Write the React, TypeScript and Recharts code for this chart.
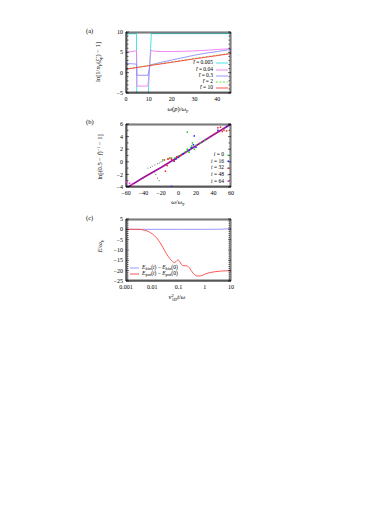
import React from 'react';
import { LineChart, ComposedChart, Line, Scatter, XAxis, YAxis } from 'recharts';

const FONT = '"Liberation Serif", "DejaVu Serif", serif';

// ---------- Panel (a) ----------
const aXTicks = [0, 10, 20, 30, 40];
const aXMinor = [2, 4, 6, 8, 12, 14, 16, 18, 22, 24, 26, 28, 32, 34, 36, 38, 42, 44];
const aYTicks = [-5, 0, 5, 10];
const aYMinor = [-4, -3, -2, -1, 1, 2, 3, 4, 6, 7, 8, 9];
const aLabels = ['t\u0303 = 0.005', 't\u0303 = 0.04', 't\u0303 = 0.3', 't\u0303 = 2', 't\u0303 = 10'];
const aColors = ['#33e0e0', '#f07af0', '#8c8cff', '#66dd33', '#ff3b3b'];
const aT0005 = [
  { x: 0, y: 9.55 }, { x: 4.6, y: 9.55 }, { x: 4.7, y: -8 }, { x: 9.5, y: -8 },
  { x: 11.1, y: 9.6 }, { x: 46, y: 9.6 },
];
const aT004 = [
  { x: 0, y: 5.0 }, { x: 2, y: 5.15 }, { x: 4.6, y: 5.4 }, { x: 4.8, y: -3.3 }, { x: 9.6, y: -3.3 },
  { x: 10.9, y: 5.5 }, { x: 12, y: 5.3 }, { x: 15, y: 5.2 }, { x: 20, y: 5.2 }, { x: 25, y: 5.25 },
  { x: 30, y: 5.35 }, { x: 35, y: 5.5 }, { x: 40, y: 5.7 }, { x: 46, y: 5.9 },
];
const aT03 = [
  { x: 0, y: 2.3 }, { x: 2, y: 2.2 }, { x: 4.6, y: 2.1 }, { x: 4.8, y: -0.65 }, { x: 9.6, y: -0.65 },
  { x: 10.6, y: 1.9 }, { x: 15, y: 2.5 }, { x: 20, y: 3.1 }, { x: 25, y: 3.7 }, { x: 30, y: 4.3 },
  { x: 35, y: 4.8 }, { x: 40, y: 5.2 }, { x: 46, y: 5.7 },
];
const aT2 = [
  { x: 0, y: 0.95 }, { x: 10, y: 1.8 }, { x: 20, y: 2.65 }, { x: 30, y: 3.5 }, { x: 40, y: 4.3 }, { x: 46, y: 4.8 },
];
const aT10 = [
  { x: 0, y: 0.85 }, { x: 10, y: 1.7 }, { x: 20, y: 2.55 }, { x: 30, y: 3.4 }, { x: 40, y: 4.2 }, { x: 46, y: 4.7 },
];
const aSeries = [aT0005, aT004, aT03, aT2, aT10];

// ---------- Panel (b) ----------
const bXTicks = [-60, -40, -20, 0, 20, 40, 60];
const bXMinor = [-50, -30, -10, 10, 30, 50];
const bYTicks = [-4, -2, 0, 2, 4, 6];
const bYMinor = [-3, -1, 1, 3, 5];
const bLabels = ['i = 0', 'i = 16', 'i = 32', 'i = 48', 'i = 64'];
const bColors = ['#22cc22', '#2222ff', '#ff2222', '#777777', '#ff22ff'];
const bI0 = [
  { x: -18, y: 0.3 }, { x: -12, y: 0.5 }, { x: -8, y: 0.6 }, { x: -4, y: 0.6 }, { x: 0, y: 0.9 },
  { x: 4, y: 1.2 }, { x: 8, y: 1.6 }, { x: 10, y: 2.0 }, { x: 11, y: 1.8 }, { x: 12, y: 1.5 },
  { x: 14, y: 2.2 }, { x: 15, y: 2.5 }, { x: 16, y: 3.0 }, { x: 18, y: 2.0 }, { x: 20, y: 2.6 },
  { x: 10, y: 4.7 }, { x: 25, y: 3.0 }, { x: 30, y: 3.4 },
];
const bI16 = [
  { x: -8, y: -3.9 }, { x: -5, y: 0.1 }, { x: -3, y: 0.4 }, { x: 0, y: 0.7 }, { x: 5, y: 1.2 },
  { x: 12, y: 1.8 }, { x: 15, y: 2.2 }, { x: 17, y: 2.7 }, { x: 18, y: 4.1 }, { x: 20, y: 2.3 },
  { x: 45, y: 5.0 }, { x: 55, y: 5.6 },
];
const bI32 = [
  { x: -16, y: 0.3 }, { x: -15, y: -1.5 }, { x: -13, y: -0.6 }, { x: -12, y: 0.4 }, { x: -10, y: 0.6 },
  { x: -8, y: 0.4 }, { x: -5, y: 0.2 }, { x: -2, y: 0.8 }, { x: 3, y: 1.0 }, { x: 42, y: 4.5 },
  { x: 45, y: 5.4 }, { x: 48, y: 5.5 }, { x: 50, y: 4.8 }, { x: 52, y: 5.0 }, { x: 55, y: 4.9 },
];
const bI48 = [
  { x: -45, y: -3.0 }, { x: -40, y: -2.6 }, { x: -35, y: -1.0 }, { x: -32, y: -0.9 }, { x: -30, y: -0.7 },
  { x: -28, y: -1.7 }, { x: -27, y: -0.5 }, { x: -26, y: -2.0 }, { x: -24, y: -0.3 }, { x: -24, y: -2.6 },
  { x: -22, y: -0.2 }, { x: -22, y: -3.0 }, { x: -20, y: 0.0 }, { x: -18, y: 0.1 }, { x: 35, y: 3.9 },
  { x: 40, y: 4.2 }, { x: 46, y: 4.7 }, { x: 50, y: 5.1 },
];
const bI64 = [
  { x: -59, y: -3.2 }, { x: -56, y: -3.4 }, { x: -53, y: -3.6 },
];
const bI64Line = [
  { x: -60, y: -4.2 }, { x: -40, y: -2.5 }, { x: -20, y: -0.9 }, { x: 0, y: 0.8 },
  { x: 20, y: 2.55 }, { x: 40, y: 4.3 }, { x: 60, y: 6.0 },
];

// ---------- Panel (c) ----------
const cXTicks = [0.001, 0.01, 0.1, 1, 10];
const cXTickText = ['0.001', '0.01', '0.1', '1', '10'];
const cXMinor = [
  0.002, 0.003, 0.004, 0.005, 0.006, 0.007, 0.008, 0.009,
  0.02, 0.03, 0.04, 0.05, 0.06, 0.07, 0.08, 0.09,
  0.2, 0.3, 0.4, 0.5, 0.6, 0.7, 0.8, 0.9,
  2, 3, 4, 5, 6, 7, 8, 9,
];
const cYTicks = [-25, -20, -15, -10, -5, 0, 5];
const cYMinor = [-24, -23, -22, -21, -19, -18, -17, -16, -14, -13, -12, -11, -9, -8, -7, -6, -4, -3, -2, -1, 1, 2, 3, 4];
const cLabels = ['kin', 'pot'];
const cColors = ['#8c8cff', '#ff4444'];
const cKin = [
  { x: 0.001, y: 0 }, { x: 0.01, y: 0 }, { x: 0.1, y: 0 }, { x: 1, y: 0 }, { x: 3, y: 0.05 },
  { x: 5, y: 0.1 }, { x: 8, y: 0.3 }, { x: 10, y: 0.4 },
];
const cPot = [
  { x: 0.001, y: 0 }, { x: 0.003, y: 0 }, { x: 0.005, y: -0.4 }, { x: 0.007, y: -1 },
  { x: 0.01, y: -2.2 }, { x: 0.015, y: -4.3 }, { x: 0.02, y: -6.5 }, { x: 0.025, y: -8.6 },
  { x: 0.03, y: -10.4 }, { x: 0.04, y: -13 }, { x: 0.05, y: -14.6 }, { x: 0.06, y: -15.7 },
  { x: 0.07, y: -16.1 }, { x: 0.08, y: -15.6 }, { x: 0.09, y: -15 }, { x: 0.1, y: -14.9 },
  { x: 0.11, y: -15.5 }, { x: 0.13, y: -17 }, { x: 0.15, y: -17.6 }, { x: 0.18, y: -17.6 },
  { x: 0.22, y: -17.8 }, { x: 0.26, y: -18.6 }, { x: 0.3, y: -19.8 }, { x: 0.36, y: -21.2 },
  { x: 0.45, y: -22.3 }, { x: 0.55, y: -22.6 }, { x: 0.7, y: -22.5 }, { x: 0.9, y: -22 },
  { x: 1.2, y: -21.3 }, { x: 1.6, y: -20.9 }, { x: 2.5, y: -20.5 }, { x: 4, y: -20.2 },
  { x: 6, y: -20.1 }, { x: 10, y: -20.0 },
];

const tickStyle = { fontSize: 6, fill: '#000', fontFamily: FONT };
const AX = { stroke: '#000', strokeWidth: 0.6 };
const empty = () => '';
const minusFmt = (v: number) => String(v).replace('-', '\u2212');
const logFmt = (v: number) => {
  const i = cXTicks.indexOf(v);
  return i >= 0 ? cXTickText[i] : String(v);
};

function frameAxes(
  xDomain: [number, number], yDomain: [number, number],
  xMaj: number[], xMin: number[], yMaj: number[], yMin: number[], xScale: 'linear' | 'log' = 'linear',
) {
  const xs: any[] = [];
  const mk = (id: string, orientation: 'top' | 'bottom', ticks: number[], size: number) => (
    <XAxis key={id} xAxisId={id} type="number" scale={xScale} domain={xDomain} orientation={orientation}
      mirror ticks={ticks} interval={0} tickFormatter={empty} tickSize={size}
      axisLine={AX} tickLine={AX} allowDataOverflow height={1} />
  );
  const mky = (id: string, orientation: 'left' | 'right', ticks: number[], size: number) => (
    <YAxis key={id} yAxisId={id} type="number" domain={yDomain} orientation={orientation}
      mirror ticks={ticks} interval={0} tickFormatter={empty} tickSize={size}
      axisLine={AX} tickLine={AX} allowDataOverflow width={1} />
  );
  xs.push(mk('bM', 'bottom', xMaj, 3));
  xs.push(mk('bm', 'bottom', xMin, 1.5));
  xs.push(mk('tM', 'top', xMaj, 3));
  xs.push(mk('tm', 'top', xMin, 1.5));
  xs.push(mky('lM', 'left', yMaj, 3));
  xs.push(mky('lm', 'left', yMin, 1.5));
  xs.push(mky('rM', 'right', yMaj, 3));
  xs.push(mky('rm', 'right', yMin, 1.5));
  return xs;
}

const abs = (left: number, top: number, extra: React.CSSProperties = {}): React.CSSProperties => ({
  position: 'absolute', left, top, fontFamily: FONT, fontSize: 6.5, color: '#000', whiteSpace: 'nowrap', lineHeight: 1, ...extra,
});
const sub: React.CSSProperties = { fontSize: 4.5, verticalAlign: '-1.5px' };
const sup: React.CSSProperties = { fontSize: 4.5, verticalAlign: '2.5px' };

const RotLabel = ({ x, y, children }: { x: number; y: number; children: React.ReactNode }) => (
  <div style={abs(x, y, { transform: 'translate(-50%, -50%) rotate(-90deg)' })}>{children}</div>
);
const CenterLabel = ({ x, y, children }: { x: number; y: number; children: React.ReactNode }) => (
  <div style={abs(x, y, { transform: 'translate(-50%, -50%)' })}>{children}</div>
);

const SqDot = (color: string, s: number) => (props: any) => {
  const { cx, cy } = props;
  if (cx == null || cy == null) return <g />;
  return <rect x={cx - s / 2} y={cy - s / 2} width={s} height={s} fill={color} />;
};

export default function App() {
  return (
    <div style={{ position: 'absolute', left: 0, top: 0, width: 390, height: 505, background: '#fff' }}>
      {/* Panel (a) */}
      <div style={{ position: 'absolute', left: 86, top: 22 }}>
        <LineChart width={150} height={95} margin={{ top: 10, right: 5, bottom: 0, left: 0 }}>
          <XAxis type="number" dataKey="x" domain={[0, 46]} ticks={aXTicks} interval={0} height={24}
            tick={tickStyle} tickLine={false} tickSize={0} tickMargin={4} axisLine={AX} allowDataOverflow tickFormatter={minusFmt} />
          <YAxis type="number" dataKey="y" domain={[-5, 10]} ticks={aYTicks} interval={0} width={40}
            tick={tickStyle} tickLine={false} tickSize={0} tickMargin={3} axisLine={AX} allowDataOverflow tickFormatter={minusFmt} />
          {frameAxes([0, 46], [-5, 10], aXTicks, aXMinor, aYTicks, aYMinor)}
          {aSeries.map((d, i) => (
            <Line key={i} data={d} dataKey="y" type="linear" stroke={aColors[i]} strokeWidth={0.9}
              strokeDasharray={i === 3 ? '2 1.5' : undefined} dot={false} isAnimationActive={false} />
          ))}
        </LineChart>
      </div>
      <div style={abs(86, 28)}>(a)</div>
      <RotLabel x={99} y={62}>
        ln[1/<i>n</i><span style={sub}>F</span>(<i>ξ̃</i><span style={sub}>p</span>) − 1]
      </RotLabel>
      <CenterLabel x={178} y={110}>
        <i>ω</i>(<i>p</i>)/<i>ω</i><span style={sub}>F</span>
      </CenterLabel>
      {aLabels.map((l, i) => (
        <React.Fragment key={l}>
          <div style={abs(213, 63.3 + i * 6.2, { transform: 'translate(-100%, -50%)', fontSize: 5.5 })}>
            <i>t̃</i>{l.slice(2)}
          </div>
          <svg style={{ position: 'absolute', left: 216, top: 61.3 + i * 6.2 }} width={13} height={4}>
            <line x1={0} y1={2} x2={12} y2={2} stroke={aColors[i]} strokeWidth={0.9}
              strokeDasharray={i === 3 ? '2 1.5' : undefined} />
          </svg>
        </React.Fragment>
      ))}

      {/* Panel (b) */}
      <div style={{ position: 'absolute', left: 86, top: 114 }}>
        <ComposedChart width={150} height={97} margin={{ top: 10, right: 5, bottom: 0, left: 0 }}>
          <XAxis type="number" dataKey="x" domain={[-60, 60]} ticks={bXTicks} interval={0} height={24}
            tick={tickStyle} tickLine={false} tickSize={0} tickMargin={4} axisLine={AX} allowDataOverflow tickFormatter={minusFmt} />
          <YAxis type="number" dataKey="y" domain={[-4, 6]} ticks={bYTicks} interval={0} width={40}
            tick={tickStyle} tickLine={false} tickSize={0} tickMargin={3} axisLine={AX} allowDataOverflow tickFormatter={minusFmt} />
          {frameAxes([-60, 60], [-4, 6], bXTicks, bXMinor, bYTicks, bYMinor)}
          <Line data={bI64Line} dataKey="y" type="linear" stroke="#a0109a" strokeWidth={1.6} dot={false} isAnimationActive={false} />
          <Scatter data={bI48} dataKey="y" shape={SqDot(bColors[3], 1)} isAnimationActive={false} />
          <Scatter data={bI0} dataKey="y" shape={SqDot(bColors[0], 1.5)} isAnimationActive={false} />
          <Scatter data={bI16} dataKey="y" shape={SqDot(bColors[1], 1.5)} isAnimationActive={false} />
          <Scatter data={bI32} dataKey="y" shape={SqDot(bColors[2], 1.5)} isAnimationActive={false} />
          <Scatter data={bI64} dataKey="y" shape={SqDot(bColors[4], 1.5)} isAnimationActive={false} />
        </ComposedChart>
      </div>
      <div style={abs(86, 119)}>(b)</div>
      <RotLabel x={100} y={157}>
        ln[(0.5 − <i>f</i>)<span style={sup}>−1</span> − 1]
      </RotLabel>
      <CenterLabel x={178} y={203}>
        <i>ω</i>/<i>ω</i><span style={sub}>F</span>
      </CenterLabel>
      {bLabels.map((l, i) => (
        <React.Fragment key={l}>
          <div style={abs(224, 155 + i * 6.7, { transform: 'translate(-100%, -50%)', fontSize: 5.5 })}>
            <i>i</i>{l.slice(1)}
          </div>
          <svg style={{ position: 'absolute', left: 227, top: 153.5 + i * 6.7 }} width={3} height={3}>
            <rect x={0.5} y={0.5} width={i === 3 ? 1 : 1.5} height={i === 3 ? 1 : 1.5} fill={bColors[i]} />
          </svg>
        </React.Fragment>
      ))}

      {/* Panel (c) */}
      <div style={{ position: 'absolute', left: 86, top: 209 }}>
        <LineChart width={150} height={96} margin={{ top: 10, right: 5, bottom: 0, left: 0 }}>
          <XAxis type="number" dataKey="x" scale="log" domain={[0.001, 10]} ticks={cXTicks} interval={0} height={24}
            tick={tickStyle} tickLine={false} tickSize={0} tickMargin={4} axisLine={AX} allowDataOverflow tickFormatter={logFmt} />
          <YAxis type="number" dataKey="y" domain={[-25, 5]} ticks={cYTicks} interval={0} width={40}
            tick={tickStyle} tickLine={false} tickSize={0} tickMargin={3} axisLine={AX} allowDataOverflow tickFormatter={minusFmt} />
          {frameAxes([0.001, 10], [-25, 5], cXTicks, cXMinor, cYTicks, cYMinor, 'log')}
          <Line data={cKin} dataKey="y" type="monotone" stroke={cColors[0]} strokeWidth={0.9} dot={false} isAnimationActive={false} />
          <Line data={cPot} dataKey="y" type="monotone" stroke={cColors[1]} strokeWidth={0.9} dot={false} isAnimationActive={false} />
        </LineChart>
      </div>
      <div style={abs(86, 215)}>(c)</div>
      <RotLabel x={101} y={246}>
        <i>E</i>/<i>ω</i><span style={sub}>F</span>
      </RotLabel>
      <CenterLabel x={177} y={298}>
        <i>v</i><span style={sup}>2</span><span style={{ ...sub, marginLeft: -2 }}>1D</span><i>t</i>/<i>ω</i>
      </CenterLabel>
      {cLabels.map((l, i) => (
        <React.Fragment key={l}>
          <svg style={{ position: 'absolute', left: 130, top: 266.3 + i * 5.8 }} width={10} height={4}>
            <line x1={0} y1={2} x2={9} y2={2} stroke={cColors[i]} strokeWidth={0.9} />
          </svg>
          <div style={abs(142, 268.3 + i * 5.8, { transform: 'translateY(-50%)', fontSize: 5.5 })}>
            <i>E</i><span style={sub}>{l}</span>(<i>t</i>) − <i>E</i><span style={sub}>{l}</span>(0)
          </div>
        </React.Fragment>
      ))}
    </div>
  );
}
